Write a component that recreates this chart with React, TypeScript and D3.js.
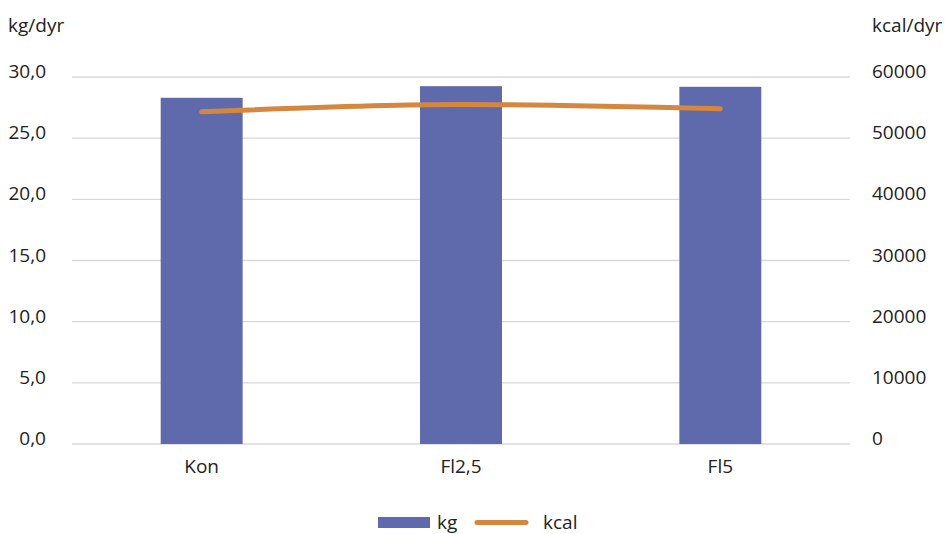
import React from "react";
import * as d3 from "d3";

const categories = ["Kon", "Fl2,5", "Fl5"];
const kgValues = [28.3, 29.25, 29.2];
const kcalValues = [54300, 55500, 54800];
const leftTicks = [0, 5, 10, 15, 20, 25, 30];
const rightTicks = [0, 10000, 20000, 30000, 40000, 50000, 60000];

const W = 951;
const H = 534;
const left = 72;
const right = 850;
const top = 77;
const bottom = 444;
const font = "'Open Sans', Roboto, sans-serif";
const fs = 19;

export default function App() {
  const x = d3.scaleBand<string>().domain(categories).range([left, right]).paddingInner(0.684).paddingOuter(0.342);
  const yL = d3.scaleLinear().domain([0, 30]).range([bottom, top]);
  const yR = d3.scaleLinear().domain([0, 60000]).range([bottom, top]);
  const fmt = (v: number) => v.toFixed(1).replace(".", ",");
  const line = d3
    .line<number>()
    .x((_, i) => (x(categories[i]) as number) + x.bandwidth() / 2)
    .y((d) => yR(d))
    .curve(d3.curveMonotoneX);

  return (
    <svg width={W} height={H} style={{ position: "absolute", left: 0, top: 0, fontFamily: font }}>
      <rect width={W} height={H} fill="#fff" />
      {leftTicks.map((t) => (
        <line key={t} x1={left} x2={right} y1={yL(t)} y2={yL(t)} stroke="#d9d9d9" strokeWidth={1.3} />
      ))}
      {leftTicks.map((t) => (
        <text key={"l" + t} x={46} y={yL(t) + 1} textAnchor="end" fontSize={fs} fill="#222">
          {fmt(t)}
        </text>
      ))}
      {rightTicks.map((t) => (
        <text key={"r" + t} x={872} y={yR(t) + 1} textAnchor="start" fontSize={fs} fill="#222">
          {t}
        </text>
      ))}
      <text x={8} y={32} fontSize={fs} fill="#222">kg/dyr</text>
      <text x={872} y={32} fontSize={fs} fill="#222">kcal/dyr</text>
      {categories.map((c, i) => (
        <rect key={c} x={x(c)} y={yL(kgValues[i])} width={x.bandwidth()} height={bottom - yL(kgValues[i])} fill="#5E6AAB" />
      ))}
      <path d={line(kcalValues) || ""} fill="none" stroke="#D5873F" strokeWidth={5} strokeLinecap="round" />
      {categories.map((c) => (
        <text key={"c" + c} x={(x(c) as number) + x.bandwidth() / 2} y={473} textAnchor="middle" fontSize={fs} fill="#222">
          {c}
        </text>
      ))}
      <rect x={378} y={517} width={52} height={11} fill="#5E6AAB" />
      <text x={437} y={529} fontSize={fs} fill="#222">kg</text>
      <line x1={477} x2={526} y1={522.5} y2={522.5} stroke="#D5873F" strokeWidth={5} strokeLinecap="round" />
      <text x={543} y={529} fontSize={fs} fill="#222">kcal</text>
    </svg>
  );
}
